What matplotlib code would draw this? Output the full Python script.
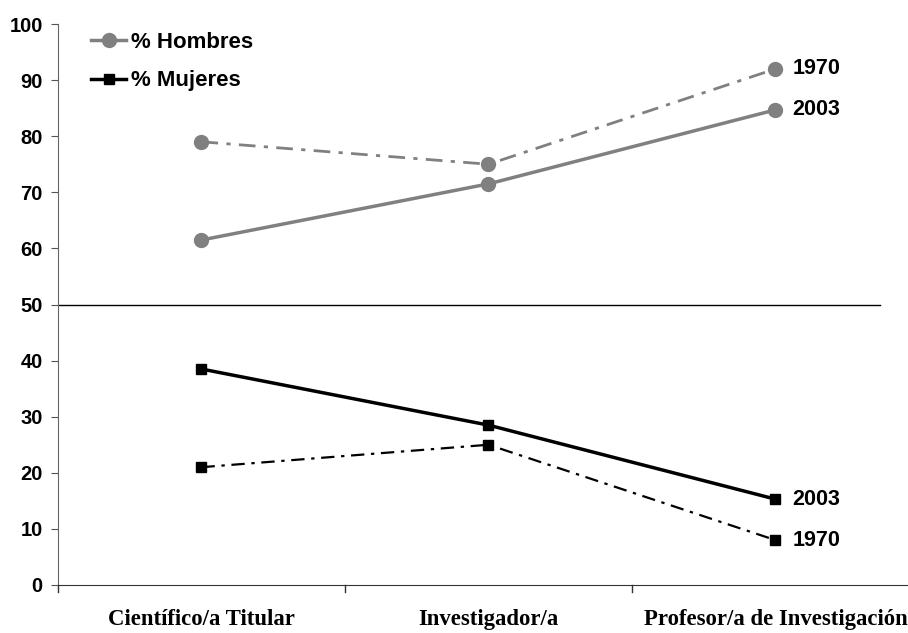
import numpy as np
import matplotlib
matplotlib.use("Agg")
import matplotlib.pyplot as plt

categories = ["Científico/a Titular", "Investigador/a", "Profesor/a de Investigación"]
hombres_2003 = [61.5, 71.5, 84.7]
hombres_1970 = [79.0, 75.0, 92.0]
mujeres_2003 = [38.5, 28.5, 15.3]
mujeres_1970 = [21.0, 25.0, 8.0]
y_ticks = list(range(0, 101, 10))

GRAY = "#808080"
SANS = "Liberation Sans"
SERIF = "Liberation Serif"

fig = plt.figure(figsize=(9.08, 6.33), dpi=100)
# axes run past the right edge: the source chart is cropped there
ax = fig.add_axes([58 / 908, 1 - 585 / 633, 861 / 908, 561 / 633])

x = np.arange(len(categories)) + 0.5
dashdot = (0, (6, 3, 1.5, 3))

ax.plot(x, hombres_1970, color=GRAY, lw=2, ls=dashdot, marker="o", ms=10)
ax.plot(x, hombres_2003, color=GRAY, lw=2.5, marker="o", ms=10, label="% Hombres")
ax.plot(x, mujeres_1970, color="black", lw=1.6, ls=dashdot, marker="s", ms=7.5)
ax.plot(x, mujeres_2003, color="black", lw=2.5, marker="s", ms=7.5, label="% Mujeres")

# year labels at the last category
for series, year in [(hombres_1970, "1970"), (hombres_2003, "2003"),
                     (mujeres_2003, "2003"), (mujeres_1970, "1970")]:
    ax.annotate(year, (x[-1], series[-1]), xytext=(12, 0), textcoords="offset points",
                va="center", ha="left", fontsize=15.5, fontweight="bold", family=SANS)

ax.axhline(50, xmin=0, xmax=822 / 861, color="black", lw=1)

ax.set_xlim(0, len(categories))
ax.set_ylim(0, 100)
ax.set_yticks(y_ticks)
ax.set_yticklabels([str(t) for t in y_ticks], fontsize=14.5, fontweight="bold", family=SANS)
ax.set_xticks(np.arange(len(categories) + 1))
ax.set_xticklabels([])
ax.set_xticks(x, minor=True)
ax.set_xticklabels(categories, minor=True, fontsize=16.4, fontweight="bold", family=SERIF)
ax.tick_params(axis="x", which="minor", length=0, pad=17.5)
ax.tick_params(axis="x", which="major", direction="in", length=0)
ax.tick_params(axis="y", direction="out", length=5, color="#555555", pad=6)

for s in ["top", "right"]:
    ax.spines[s].set_visible(False)
ax.spines["left"].set_color("#666666")
ax.spines["bottom"].set_color("#333333")

# small downward ticks on the category boundaries
for b in np.arange(len(categories) + 1):
    ax.plot([b, b], [0, -1.3], color="#333333", lw=1, clip_on=False)

leg = ax.legend(loc="upper left", bbox_to_anchor=(0.015, 1.022), frameon=False,
                prop={"family": SANS, "weight": "bold", "size": 16},
                handlelength=1.6, handletextpad=0.2, labelspacing=0.8)

fig.savefig("out.png", dpi=100)
